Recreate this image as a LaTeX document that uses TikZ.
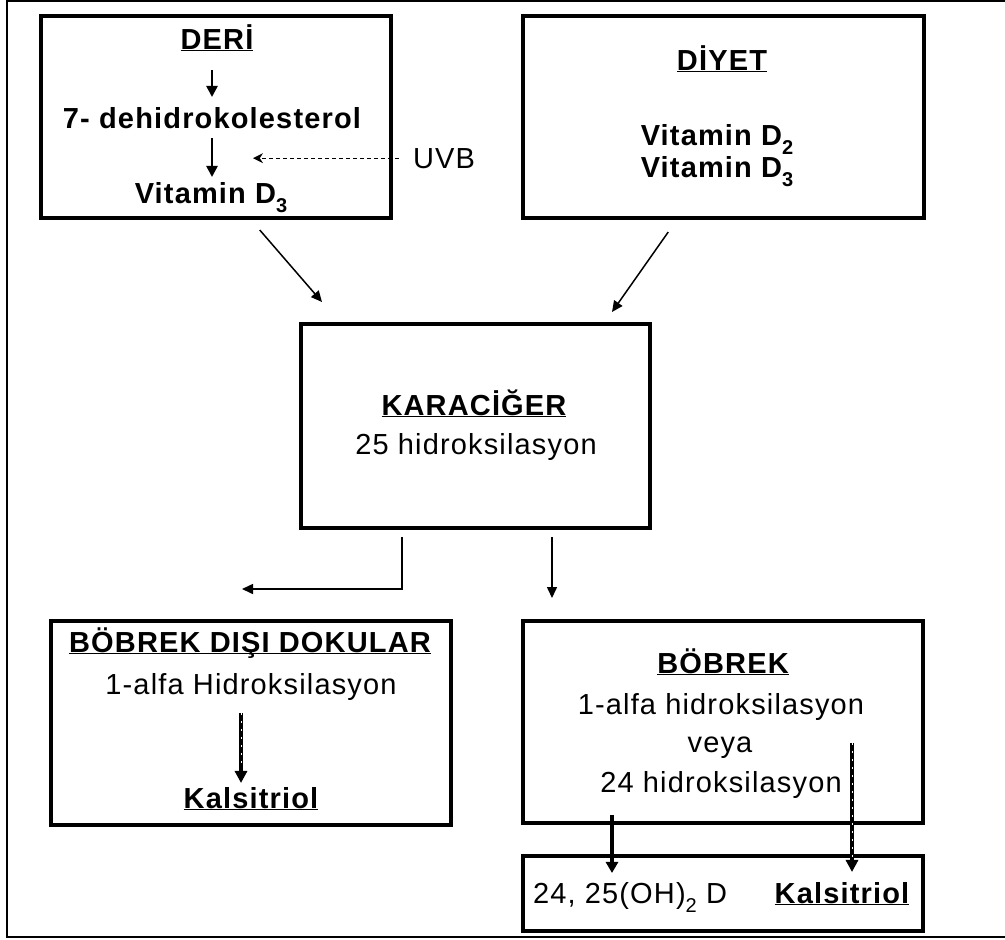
\documentclass[tikz,border=0pt]{standalone}
\usepackage{fontspec}
\setmainfont{Liberation Sans}[LetterSpace=4]
\usetikzlibrary{arrows.meta}
\newcommand\ulin[1]{\underline{\raisebox{0pt}[\height][0pt]{#1}}}
\newcommand\dsub[1]{\raisebox{-9pt}{\fontsize{20}{20}\selectfont #1}}
\tikzset{
    box/.style={draw, line width=4pt, inner sep=0pt, outer sep=0pt},
    txt/.style={inner sep=0pt, outer sep=0pt, anchor=base, font=\fontsize{29}{34}\selectfont},
    btxt/.style={txt, font=\fontsize{29}{34}\selectfont\bfseries},
    fatarrow/.style={line width=2.5pt, -{Triangle[width=11pt,length=11pt]}},
    thinarrow/.style={line width=1.5pt, -{Triangle[width=10pt,length=11pt]}},
    uvarrow/.style={line width=1pt, dash pattern=on 4pt off 3pt, -{Stealth[width=10pt,length=10pt]}},
    dotarrow/.style={line width=3.5pt, -{Triangle[width=12pt,length=12pt]},
        postaction={draw=white, line width=0.9pt, dash pattern=on 2pt off 6pt, arrows=-, shorten >=14pt}},
}
\begin{document}
\begin{tikzpicture}[x=1pt,y=-1pt]
    \useasboundingbox (0,0) rectangle (1005,940);
    \draw[line width=2pt] (1005,1) -- (7,1) -- (7,937) -- (1005,937);

    % boxes
    \node[box, minimum width=349.5pt, minimum height=202.5pt] (deri) at (215.75,116.75) {};
    \node[box, minimum width=401.5pt, minimum height=202.5pt] (diyet) at (723.25,116.75) {};
    \node[box, minimum width=349pt, minimum height=204pt] (kc) at (475.5,425.5) {};
    \node[box, minimum width=400pt, minimum height=204pt] (bdd) at (250.5,722.5) {};
    \node[box, minimum width=400pt, minimum height=202.5pt] (bb) at (722.5,721.75) {};
    \node[box, minimum width=400pt, minimum height=74.5pt] (son) at (722.5,893.25) {};

    % deri
    \node[btxt] (deriT) at (217,49) {\ulin{DERİ}};
    \node[btxt] (dehidro) at (212,128) {7- dehidrokolesterol};
    \node[btxt] (vitDa) at (211,203) {Vitamin D\dsub{3}};
    \node[txt] (uvb) at (444,168) {UVB};
    \coordinate (uvEnd) at (253,159);

    % diyet
    \node[btxt] (diyetT) at (722,70) {\ulin{DİYET}};
    \node[btxt] (vitDb) at (717,145) {Vitamin D\dsub{2}};
    \node[btxt] (vitDc) at (717,177) {Vitamin D\dsub{3}};

    % karaciger
    \node[btxt] (kcT) at (474,415) {\ulin{KARACİĞER}};
    \node[txt] (kcS) at (476,454) {25 hidroksilasyon};

    % bobrek disi
    \node[btxt] (bddT) at (250,652) {\ulin{BÖBREK DIŞI DOKULAR}};
    \node[txt] (bddS) at (251,694) {1-alfa Hidroksilasyon};
    \node[btxt] (bddK) at (251,808) {\ulin{Kalsitriol}};

    % bobrek
    \node[btxt] (bbT) at (723,673) {\ulin{BÖBREK}};
    \node[txt] (bbA) at (721,714) {1-alfa hidroksilasyon};
    \node[txt] (bbB) at (720,752) {veya};
    \node[txt] (bbC) at (721,792) {24 hidroksilasyon};

    % son
    \node[txt] (ohD) at (630,903) {24, 25(OH)\dsub{2} D};
    \node[btxt] (sonK) at (842,903) {\ulin{Kalsitriol}};

    \draw[fatarrow, shorten <=19pt, shorten >=10pt] (deriT.south -| dehidro.north) -- (dehidro.north);
    \draw[fatarrow, shorten <=10pt, shorten >=5pt] (dehidro.south) -- (dehidro.south |- vitDa.north);
    \draw[uvarrow, shorten <=14.5pt] (uvb.west) -- (uvb.west -| uvEnd);

    \draw[thinarrow] ([xshift=44pt,yshift=-12pt]deri.south) -- ([xshift=-153.5pt,yshift=21.5pt]kc.north);
    \draw[thinarrow] ([xshift=-55pt,yshift=-14pt]diyet.south) -- ([xshift=136.5pt,yshift=11.5pt]kc.north);

    \draw[thinarrow] ([xshift=-73.5pt,yshift=-9.5pt]kc.south) |- ([xshift=-8.5pt,yshift=31.5pt]bdd.north);
    \draw[thinarrow] ([xshift=76.5pt,yshift=-9.5pt]kc.south) -- ++(0,61);

    \draw[dotarrow] ([xshift=-10pt,yshift=-13pt]bddS.south) -- ([xshift=-10pt,yshift=4pt]bddK.north);
    \draw[dotarrow] ([xshift=10pt,yshift=139pt]sonK.north) -- ([xshift=10pt,yshift=10pt]sonK.north);
    \draw[fatarrow, line width=3.5pt, -{Triangle[width=12pt,length=11pt]}] ([xshift=-18pt,yshift=67pt]ohD.north) -- ([xshift=-18pt,yshift=9pt]ohD.north);
\end{tikzpicture}
\end{document}
